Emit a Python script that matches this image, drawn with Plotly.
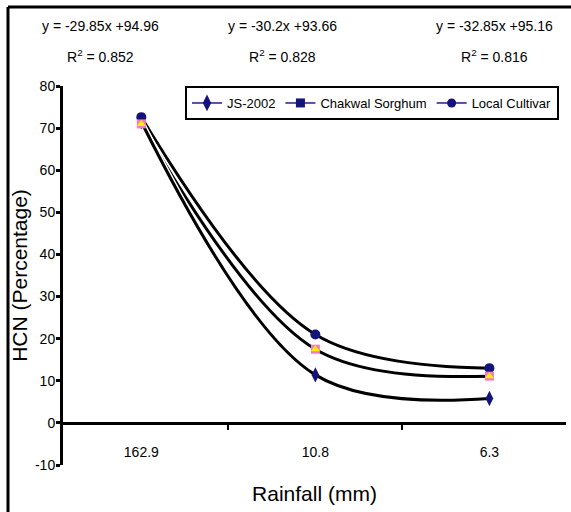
import plotly.graph_objects as go

# ---- data ----
rainfall = ["162.9", "10.8", "6.3"]
js2002 = [71.5, 11.4, 5.8]
chakwal = [71.0, 17.5, 11.1]
local_cultivar = [72.6, 21.0, 13.0]
equations = ["y = -29.85x +94.96", "y = -30.2x +93.66", "y = -32.85x +95.16"]
r_squared = ["0.852", "0.828", "0.816"]
y_ticks = [-10, 0, 10, 20, 30, 40, 50, 60, 70, 80]
y_ticktext = ["-10", "0", "10", "20", "30", "40", "50", "60", "70", "80"]

W, H = 571, 512
ML, MR, MT, MB = 63, 5, 86, 47
PW, PH = W - ML - MR, H - MT - MB


def px_x(p):
    return (p - ML) / PW


def px_y(p):
    return (H - MB - p) / PH


FONT = "Liberation Sans, Arial, sans-serif"
NAVY = "#13137a"
LEG_LINE = "#5b4fa3"

fig = go.Figure()

series = [("Local Cultivar", local_cultivar), ("Chakwal Sorghum", chakwal), ("JS-2002", js2002)]
# white halo then black smoothed line
for name, vals in series:
    fig.add_trace(go.Scatter(x=rainfall, y=vals, mode="lines",
                             line=dict(color="white", width=6, shape="spline", smoothing=1),
                             showlegend=False, hoverinfo="skip"))
    fig.add_trace(go.Scatter(x=rainfall, y=vals, mode="lines",
                             line=dict(color="black", width=3, shape="spline", smoothing=1),
                             showlegend=False, name=name))

# markers on the plot
fig.add_trace(go.Scatter(x=rainfall, y=local_cultivar, mode="markers",
                         marker=dict(symbol="circle", size=10, color=NAVY),
                         showlegend=False, name="Local Cultivar"))
fig.add_trace(go.Scatter(x=rainfall, y=js2002, mode="markers",
                         marker=dict(symbol="diamond-tall", size=11, color=NAVY),
                         showlegend=False, name="JS-2002"))
fig.add_trace(go.Scatter(x=rainfall, y=chakwal, mode="markers",
                         marker=dict(symbol="square", size=9, color="#f27ac8"),
                         showlegend=False, name="Chakwal Sorghum"))
fig.add_trace(go.Scatter(x=rainfall, y=chakwal, mode="markers",
                         marker=dict(symbol="triangle-up", size=8, color="#ffee00"),
                         showlegend=False, hoverinfo="skip"))

# legend entries
for name, sym, sz in [("JS-2002", "diamond-tall", 12), ("Chakwal Sorghum", "square", 9),
                      ("Local Cultivar", "circle", 9)]:
    fig.add_trace(go.Scatter(x=[None], y=[None], mode="lines+markers", name=name,
                             line=dict(color=LEG_LINE, width=2),
                             marker=dict(symbol=sym, size=sz, color=NAVY)))

annotations = []
centers = [100, 282, 494]
for cx, eq, r2 in zip(centers, equations, r_squared):
    annotations.append(dict(x=px_x(cx), y=px_y(26), xref="paper", yref="paper",
                            text=eq, showarrow=False, xanchor="center", yanchor="middle",
                            font=dict(family=FONT, size=14, color="black")))
    annotations.append(dict(x=px_x(cx), y=px_y(56), xref="paper", yref="paper",
                            text="R<sup>2</sup> = " + r2, showarrow=False,
                            xanchor="center", yanchor="middle",
                            font=dict(family=FONT, size=14, color="black")))

shapes = [
    dict(type="line", xref="paper", yref="paper", x0=px_x(8), x1=px_x(W + 2),
         y0=px_y(7), y1=px_y(7), line=dict(color="black", width=3)),
    dict(type="line", xref="paper", yref="paper", x0=px_x(8), x1=px_x(8),
         y0=px_y(7), y1=px_y(H + 2), line=dict(color="black", width=3)),
]

fig.update_layout(
    width=W, height=H,
    margin=dict(l=ML, r=MR, t=MT, b=MB, pad=0, autoexpand=False),
    paper_bgcolor="white", plot_bgcolor="white",
    font=dict(family=FONT, color="black", size=14),
    annotations=annotations,
    shapes=shapes,
    legend=dict(orientation="h", x=px_x(185), y=px_y(86), xanchor="left", yanchor="top",
                bordercolor="black", borderwidth=2, bgcolor="white",
                font=dict(family=FONT, size=13, color="black"),
                itemwidth=30, tracegroupgap=0),
    xaxis=dict(type="category", range=[-0.45, 2.44], anchor="free",
               position=10 / 90, showline=True, linecolor="black", linewidth=3,
               ticks="outside", tickson="boundaries", ticklen=5, tickwidth=2,
               tickcolor="black", showgrid=False, zeroline=False,
               ticklabelstandoff=15, automargin=False,
               tickfont=dict(family=FONT, size=14),
               title=dict(text="Rainfall (mm)", font=dict(family=FONT, size=21),
                          standoff=27)),
    yaxis=dict(range=[-10, 80], tickvals=y_ticks, ticktext=y_ticktext,
               showline=True, linecolor="black",
               linewidth=3, ticks="outside", ticklen=4, tickwidth=3, tickcolor="black",
               showgrid=False, zeroline=False, automargin=False,
               ticklabelstandoff=-2,
               tickfont=dict(family=FONT, size=14),
               title=dict(text="HCN (Percentage)", font=dict(family=FONT, size=21),
                          standoff=2)),
)

fig.write_html("out.html", config={"displayModeBar": False},
               post_script="document.body.style.margin='0px';")
